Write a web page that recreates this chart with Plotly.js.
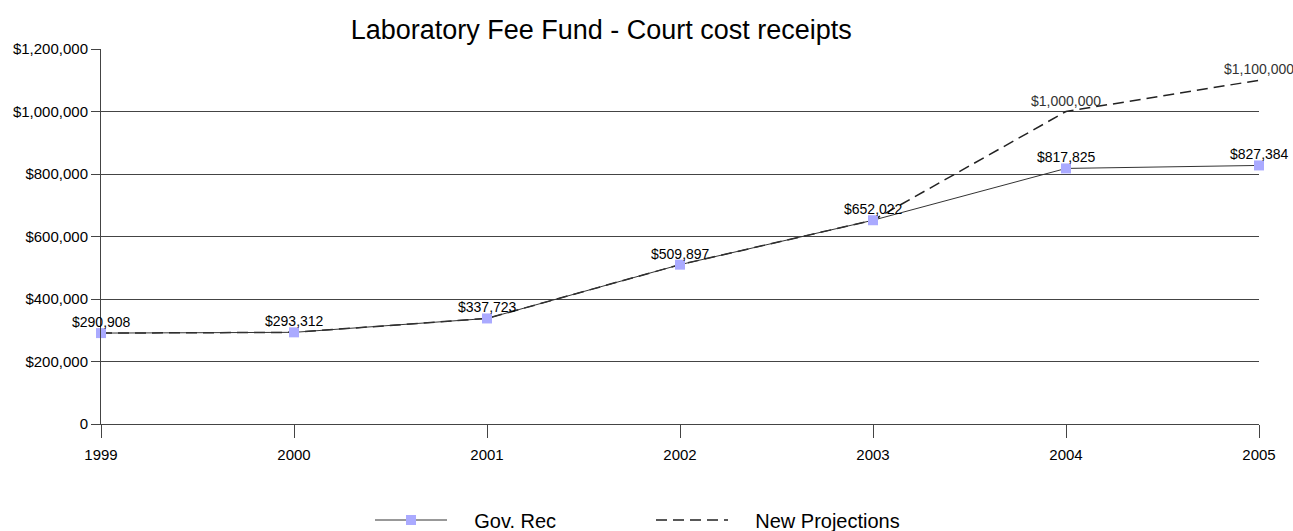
<!DOCTYPE html>
<html>
<head>
<meta charset="utf-8">
<script src="https://cdn.plot.ly/plotly-3.0.1.min.js"></script>
<style>html,body{margin:0;padding:0;background:#fff;}#chart{width:1293px;height:531px;}</style>
</head>
<body>
<div id="chart"></div>
<script>
var years = [1999, 2000, 2001, 2002, 2003, 2004, 2005];
var govRec = [290908, 293312, 337723, 509897, 652022, 817825, 827384];
var newProjections = [290908, 293312, 337723, 509897, 652022, 1000000, 1100000];
var yTickVals = [0, 200000, 400000, 600000, 800000, 1000000, 1200000];
var yTickText = ['0', '$200,000', '$400,000', '$600,000', '$800,000', '$1,000,000', '$1,200,000'];

function fmt(v) { return '$' + v.toLocaleString('en-US'); }

var FONT = '"Liberation Sans", Arial, sans-serif';
var PAD = '\u00a0\u00a0\u00a0\u00a0';

var annotations = [];
years.forEach(function (yr, i) {
  annotations.push({x: yr, y: govRec[i], xref: 'x', yref: 'y', text: fmt(govRec[i]), showarrow: false,
    yshift: 11, font: {family: FONT, size: 14, color: '#000'}});
  if (newProjections[i] !== govRec[i]) {
    annotations.push({x: yr, y: newProjections[i], xref: 'x', yref: 'y', text: fmt(newProjections[i]), showarrow: false,
      yshift: 11, font: {family: FONT, size: 14, color: '#333'}});
  }
});

var traces = [
  {
    x: years, y: newProjections, name: PAD + 'New Projections', type: 'scatter', mode: 'lines',
    line: {color: '#222', width: 1.5, dash: '11px,6px'}, cliponaxis: false
  },
  {
    x: years, y: govRec, name: PAD + 'Gov. Rec', type: 'scatter', mode: 'lines+markers',
    line: {color: '#333', width: 1},
    marker: {symbol: 'square', size: 10, color: '#aaaaff'}, cliponaxis: false
  }
];

var layout = {
  width: 1293, height: 531,
  margin: {l: 101, r: 34, t: 49, b: 107, autoexpand: false},
  paper_bgcolor: '#fff', plot_bgcolor: '#fff',
  font: {family: FONT, size: 14, color: '#000'},
  title: {text: 'Laboratory Fee Fund - Court cost receipts', font: {family: FONT, size: 27, color: '#000'},
          x: 0.465, xanchor: 'center', y: 0.945, yanchor: 'middle'},
  showlegend: true,
  annotations: annotations,
  legend: {orientation: 'h', x: 0.2323, xanchor: 'left', y: -0.256, yanchor: 'middle',
           traceorder: 'reversed', font: {family: FONT, size: 20, color: '#000'},
           itemwidth: 72, entrywidth: 194, entrywidthmode: 'pixels', bgcolor: 'rgba(0,0,0,0)'},
  xaxis: {
    range: [1999, 2005], tickvals: years, ticktext: years.map(String),
    showgrid: false, zeroline: false, showline: true, linecolor: '#444', linewidth: 1,
    ticks: 'outside', ticklen: 13, tickcolor: '#444', tickfont: {family: FONT, size: 15},
    ticklabelstandoff: 4, fixedrange: true
  },
  yaxis: {
    range: [0, 1200000], tickvals: yTickVals, ticktext: yTickText,
    showgrid: true, gridcolor: '#444', gridwidth: 1, zeroline: false,
    showline: true, linecolor: '#444', linewidth: 1,
    ticks: 'outside', ticklen: 9, tickcolor: '#444', tickfont: {family: FONT, size: 15}, fixedrange: true
  }
};

Plotly.newPlot('chart', traces, layout, {displayModeBar: false, staticPlot: true});
</script>
</body>
</html>
